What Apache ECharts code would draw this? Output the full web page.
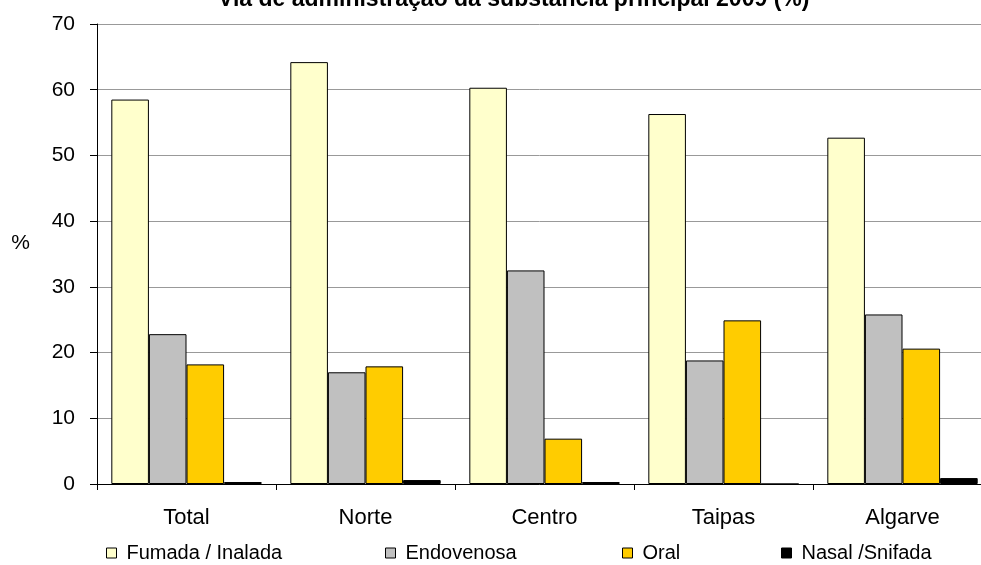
<!DOCTYPE html>
<html><head><meta charset="utf-8">
<script src="https://cdn.jsdelivr.net/npm/echarts@6/dist/echarts.min.js"></script>
<style>html,body{margin:0;padding:0;background:#fff}#c{width:981px;height:565px}</style>
</head><body><div id="c"></div>
<script>
const categories = ['Total', 'Norte', 'Centro', 'Taipas', 'Algarve'];
const fumada = [58.5, 64.2, 60.3, 56.3, 52.7];
const endovenosa = [22.8, 17.0, 32.5, 18.8, 25.8];
const oral = [18.2, 17.9, 6.9, 24.9, 20.6];
const nasal = [0.3, 0.6, 0.3, 0.0, 0.9];
const seriesNames = ['Fumada / Inalada', 'Endovenosa', 'Oral', 'Nasal /Snifada'];
const colors = ['#FFFFCC', '#C0C0C0', '#FFCC00', '#000000'];
const seriesData = [fumada, endovenosa, oral, nasal];
const legendX = [106, 385, 622, 781];

const font = 'Arial, "Liberation Sans", sans-serif';
const chart = echarts.init(document.getElementById('c'), null, {renderer: 'canvas'});
chart.setOption({
  animation: false,
  title: {
    text: 'Via de administração da substância principal 2009 (%)',
    left: 213, top: -17,
    textStyle: {fontFamily: font, fontWeight: 'bold', fontSize: 23, color: '#000'}
  },
  legend: seriesNames.map((n, i) => ({
    data: [n], left: legendX[i], top: 543, padding: 0,
    itemWidth: 10, itemHeight: 10, itemGap: 4,
    icon: 'rect',
    itemStyle: {borderColor: '#000', borderWidth: 1},
    textStyle: {fontFamily: font, fontSize: 20, color: '#000', padding: [0, 0, 0, 5]},
    selectedMode: false
  })),
  grid: {left: 97, top: 24, right: -11, bottom: 81, containLabel: false, outerBoundsMode: 'none'},
  xAxis: {
    type: 'category', data: categories, boundaryGap: true,
    axisLine: {lineStyle: {color: '#000', width: 1}},
    axisTick: {show: true, alignWithLabel: false, length: 6, lineStyle: {color: '#000'}},
    axisLabel: {fontFamily: font, fontSize: 22, color: '#000', margin: 23}
  },
  yAxis: {
    type: 'value', min: 0, max: 70, interval: 10,
    name: '%', nameLocation: 'middle', nameRotate: 0, nameGap: 67,
    nameTextStyle: {fontFamily: font, fontSize: 21, color: '#000', verticalAlign: 'bottom'},
    axisLine: {show: true, lineStyle: {color: '#000'}},
    axisTick: {show: true, length: 7, lineStyle: {color: '#000'}},
    axisLabel: {fontFamily: font, fontSize: 21, color: '#000', margin: 22},
    splitLine: {lineStyle: {color: '#999', width: 1}}
  },
  series: seriesNames.map((n, i) => ({
    name: n, type: 'bar', data: seriesData[i],
    barGap: '0%', barCategoryGap: '16%',
    itemStyle: {color: colors[i], borderColor: '#000', borderWidth: 1}
  }))
});
</script></body></html>
